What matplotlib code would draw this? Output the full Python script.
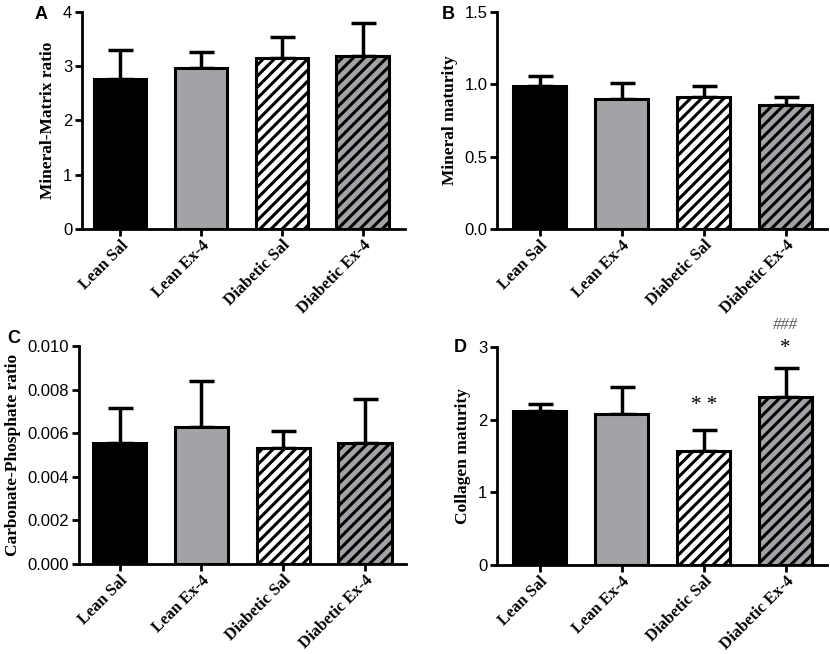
import numpy as np
import matplotlib
matplotlib.use("Agg")
import matplotlib.pyplot as plt

plt.rcParams['hatch.linewidth'] = 2.2
plt.rcParams['hatch.color'] = 'black'

groups = ['Lean Sal', 'Lean Ex-4', 'Diabetic Sal', 'Diabetic Ex-4']
colors = ['black', '#a3a3a7', 'white', '#a3a3a7']
hatches = [None, None, '///', '///']

# panel data: means and upper SD
mm_mean = [2.76, 2.96, 3.15, 3.18]
mm_err = [0.54, 0.31, 0.38, 0.61]

mat_mean = [0.985, 0.896, 0.914, 0.855]
mat_err = [0.075, 0.11, 0.075, 0.055]

cp_mean = [0.00556, 0.0063, 0.00531, 0.00554]
cp_err = [0.00158, 0.0021, 0.0008, 0.00203]

col_mean = [2.12, 2.076, 1.575, 2.32]
col_err = [0.10, 0.38, 0.285, 0.39]

serif = 'Liberation Serif'
sans = 'Liberation Sans'

fig = plt.figure(figsize=(8.3, 6.54), dpi=100)


def panel(rect, means, errs, ylim, yticks, yfmt, ylabel, letter, letter_xy, xlim):
    ax = fig.add_axes(rect)
    x = np.arange(len(groups))
    ax.errorbar(x, means, yerr=[np.zeros(len(errs)), errs], fmt='none',
                ecolor='black', elinewidth=2.5, capsize=9, capthick=2.5, zorder=1)
    for i in range(len(groups)):
        ax.bar(x[i], means[i], width=0.65, color=colors[i], edgecolor='black',
               linewidth=2.2, hatch=hatches[i], zorder=2)
    ax.set_xlim(*xlim)
    ax.set_ylim(*ylim)
    ax.set_yticks(yticks)
    ax.set_yticklabels([yfmt.format(v) for v in yticks], fontsize=12, family=sans)
    ax.set_xticks(x)
    ax.set_xticklabels(groups, rotation=45, ha='right', rotation_mode='anchor',
                       fontsize=12, family=serif, fontweight='bold')
    ax.spines['top'].set_visible(False)
    ax.spines['right'].set_visible(False)
    ax.spines['left'].set_linewidth(2)
    ax.spines['bottom'].set_linewidth(2)
    ax.tick_params(width=2, length=5, pad=2)
    ax.tick_params(axis='x', pad=1)
    ax.set_ylabel(ylabel, fontsize=12.5, family=serif, fontweight='bold', labelpad=5)
    fig.text(letter_xy[0], letter_xy[1], letter, fontsize=13, family=sans,
             fontweight='bold', ha='center', va='center')
    return ax


panel([0.0988, 0.650, 0.389, 0.3317], mm_mean, mm_err, (0, 4), [0, 1, 2, 3, 4], '{:g}',
      'Mineral-Matrix ratio', 'A', (0.050, 0.978), (-0.47, 3.52))
panel([0.599, 0.650, 0.397, 0.3317], mat_mean, mat_err, (0, 1.5), [0, 0.5, 1.0, 1.5], '{:.1f}',
      'Mineral maturity', 'B', (0.540, 0.978), (-0.52, 3.5))
panel([0.095, 0.1376, 0.394, 0.3334], cp_mean, cp_err, (0, 0.010),
      [0, 0.002, 0.004, 0.006, 0.008, 0.010], '{:.3f}',
      'Carbonate-Phosphate ratio', 'C', (0.016, 0.483), (-0.5, 3.5))
axd = panel([0.599, 0.136, 0.397, 0.333], col_mean, col_err, (0, 3), [0, 1, 2, 3], '{:g}',
            'Collagen maturity', 'D', (0.554, 0.469), (-0.52, 3.5))

axd.text(2, 2.2, '* *', ha='center', va='center', fontsize=15, family=serif, clip_on=False)
axd.text(3, 2.98, '*', ha='center', va='center', fontsize=15, family=serif, clip_on=False)
axd.text(3, 3.3, '###', ha='center', va='center', fontsize=12, family=serif,
         style='italic', color='#555555', clip_on=False)

fig.savefig('out.png', dpi=100)
